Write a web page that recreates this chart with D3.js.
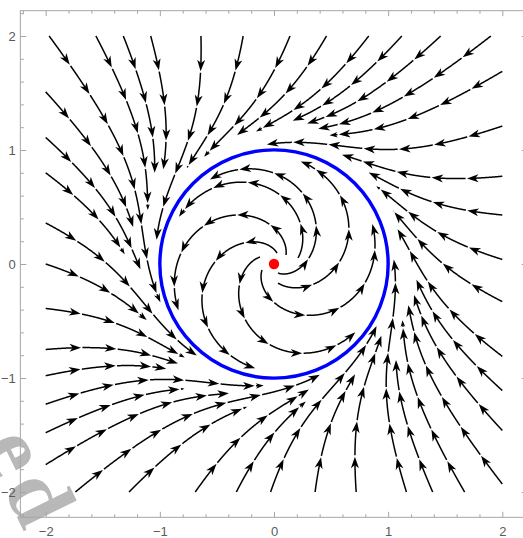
<!DOCTYPE html>
<html>
<head>
<meta charset="utf-8">
<script src="https://cdn.jsdelivr.net/npm/d3@7"></script>
<style>
  html, body { margin: 0; padding: 0; background: #fff; }
  svg { display: block; }
</style>
</head>
<body>
<script>
// Stream plot of x' = -y + x(1 - x² - y²), y' = x + y(1 - x² - y²)
// with its limit cycle (unit circle) and the equilibrium at the origin.

// Upstream ends of the streamlines that enter through the plot edges
const topStarts    = [-1.97, -1.56, -1.32, -1.08, -0.64, -0.27, 0.14, 0.46, 0.83, 1.12, 1.46, 1.90]; // x at y = 2
const rightStarts  = [1.69, 1.21, 0.77, 0.43, 0.04, -0.33, -0.81, -1.11, -1.46, -1.93];            // y at x = 2
const bottomStarts = [-1.74, -1.27, -0.69, -0.33, -0.03, 0.36, 0.72, 1.16, 1.39, 1.67];            // x at y = -2
const leftStarts   = [1.51, 1.11, 0.80, 0.36, 0.0, -0.39, -0.75, -0.98, -1.23, -1.48, -1.76];      // y at x = -2
// Upstream ends of the streamlines leaving the equilibrium
const innerStarts = [
  [0.035, -0.167], [0.035, -0.079], [-0.105, -0.053], [-0.123, 0.061],
  [0.026, 0.096], [0.105, 0.079], [0.21, 0.053], [-0.08, 0.01], [-0.28, 0.035]
];
const majorTicks = [-2, -1, 0, 1, 2];
const minorTicks = [-2.2, -1.8, -1.6, -1.4, -1.2, -0.8, -0.6, -0.4, -0.2,
                    0.2, 0.4, 0.6, 0.8, 1.2, 1.4, 1.6, 1.8, 2.2];
const cycleRadius = 1;
const equilibrium = [0, 0];
const stampText = "ed";

const W = 523, H = 538;
const x = d3.scaleLinear().domain([-2, 2]).range([45.7, 502.3]);
const y = d3.scaleLinear().domain([-2, 2]).range([492, 36]);
const PAD = 0.222;
const fx0 = x(-2 - PAD), fx1 = x(2 + PAD), fy0 = y(2 + PAD), fy1 = y(-2 - PAD);

const svg = d3.select("body").append("svg").attr("width", W).attr("height", H);

// ---------- vector field and tracing ----------
function field(px, py) {
  const k = 1 - (px * px + py * py);
  return [-py + px * k, px + py * k];
}
function unitDir(p) {
  const f = field(p[0], p[1]);
  const m = Math.hypot(f[0], f[1]);
  return m < 1e-12 ? [0, 0] : [f[0] / m, f[1] / m];
}
function rk4(p, h) {
  const k1 = unitDir(p);
  const k2 = unitDir([p[0] + h / 2 * k1[0], p[1] + h / 2 * k1[1]]);
  const k3 = unitDir([p[0] + h / 2 * k2[0], p[1] + h / 2 * k2[1]]);
  const k4 = unitDir([p[0] + h * k3[0], p[1] + h * k3[1]]);
  return [p[0] + h / 6 * (k1[0] + 2 * k2[0] + 2 * k3[0] + k4[0]),
          p[1] + h / 6 * (k1[1] + 2 * k2[1] + 2 * k3[1] + k4[1])];
}

const STEP = 0.004, D_TEST = 0.075, R_IN = 0.93, R_OUT = 1.05;
const grid = new Map();
const key = (a, b) => a + "," + b;
function near(p) {
  const i = Math.floor(p[0] / D_TEST), j = Math.floor(p[1] / D_TEST);
  for (let di = -1; di <= 1; di++) for (let dj = -1; dj <= 1; dj++) {
    const cell = grid.get(key(i + di, j + dj));
    if (!cell) continue;
    for (const q of cell) if (Math.hypot(q[0] - p[0], q[1] - p[1]) < D_TEST) return true;
  }
  return false;
}
function addToGrid(pts) {
  for (const p of pts) {
    const k = key(Math.floor(p[0] / D_TEST), Math.floor(p[1] / D_TEST));
    if (!grid.has(k)) grid.set(k, []);
    grid.get(k).push(p);
  }
}
function trace(start, inside, maxLen) {
  let p = start.slice();
  const pts = [p];
  let L = 0;
  while (L < maxLen) {
    const q = rk4(p, STEP);
    if (Math.abs(q[0]) > 2.0001 || Math.abs(q[1]) > 2.0001) break;
    const r = Math.hypot(q[0], q[1]);
    if (inside ? r > R_IN : r < R_OUT) break;
    if (near(q)) break;
    pts.push(q);
    p = q;
    L += STEP;
  }
  addToGrid(pts);
  return pts;
}

const seeds = [];
topStarts.forEach(v => seeds.push({ p: [v, 2], inside: false }));
rightStarts.forEach(v => seeds.push({ p: [2, v], inside: false }));
bottomStarts.forEach(v => seeds.push({ p: [v, -2], inside: false }));
leftStarts.forEach(v => seeds.push({ p: [-2, v], inside: false }));
innerStarts.forEach(v => seeds.push({ p: v, inside: true }));

const lines = seeds.map(s => trace(s.p, s.inside, 8));

// ---------- drawing ----------
svg.append("rect").attr("width", W).attr("height", H).attr("fill", "#fff");

// grey stamp lettering in the lower-left corner (under the plot)
svg.append("text")
  .attr("transform", "translate(-18,446) rotate(64)")
  .attr("font-family", "Liberation Serif, serif")
  .attr("font-size", 88)
  .attr("font-weight", "bold")
  .attr("letter-spacing", 8)
  .attr("fill", "#b8b8b8")
  .text(stampText);

const plot = svg.append("g");
const SEG = 0.31, GAP = 0.012, HEAD_L = 11.5, HEAD_W = 4;

function pointAt(pts, cum, s) {
  let i = d3.bisectLeft(cum, s);
  if (i <= 0) return pts[0];
  if (i >= pts.length) return pts[pts.length - 1];
  const t = (s - cum[i - 1]) / (cum[i] - cum[i - 1] || 1);
  return [pts[i - 1][0] + t * (pts[i][0] - pts[i - 1][0]), pts[i - 1][1] + t * (pts[i][1] - pts[i - 1][1])];
}
const lineGen = d3.line().x(d => x(d[0])).y(d => y(d[1]));

lines.forEach(pts => {
  if (pts.length < 2) return;
  const cum = [0];
  for (let i = 1; i < pts.length; i++) cum.push(cum[i - 1] + Math.hypot(pts[i][0] - pts[i - 1][0], pts[i][1] - pts[i - 1][1]));
  const total = cum[cum.length - 1];
  for (let k = 0; k * SEG < total; k++) {
    const s0 = k * SEG + (k > 0 ? GAP : 0);
    const s1 = Math.min((k + 1) * SEG, total);
    if (s1 - s0 <= 0.002) continue;
    const scale = Math.min(1, (s1 - s0) / 0.1);
    const hl = HEAD_L * scale, hw = HEAD_W * scale;
    const bodyEnd = s1 - (hl * 0.6) / 114;
    const body = [pointAt(pts, cum, s0)];
    for (let i = 0; i < pts.length; i++) if (cum[i] > s0 && cum[i] < bodyEnd) body.push(pts[i]);
    if (bodyEnd > s0) body.push(pointAt(pts, cum, bodyEnd));
    if (body.length > 1)
      plot.append("path").attr("d", lineGen(body)).attr("fill", "none")
        .attr("stroke", "#000").attr("stroke-width", 1.5);
    const tip = pointAt(pts, cum, s1);
    const u = unitDir(tip);
    const tx = x(tip[0]), ty = y(tip[1]);
    const dx = u[0], dy = -u[1];
    const nx = -dy, ny = dx;
    const pts2 = [
      [tx, ty],
      [tx - dx * hl + nx * hw, ty - dy * hl + ny * hw],
      [tx - dx * hl * 0.72, ty - dy * hl * 0.72],
      [tx - dx * hl - nx * hw, ty - dy * hl - ny * hw]
    ];
    plot.append("path").attr("d", "M" + pts2.map(q => q.join(",")).join("L") + "Z").attr("fill", "#000");
  }
});

// limit cycle and equilibrium
svg.append("circle")
  .attr("cx", x(0)).attr("cy", y(0))
  .attr("r", x(cycleRadius) - x(0))
  .attr("fill", "none").attr("stroke", "#0000ff").attr("stroke-width", 3.4);
svg.append("circle")
  .attr("cx", x(equilibrium[0])).attr("cy", y(equilibrium[1]))
  .attr("r", 5.2).attr("fill", "#ff0000");

// ---------- frame and axes ----------
const fmt = d => d < 0 ? "\u2212" + (-d) : String(d);
const FRAME = "#a6a6a6";
const axisStyle = (g) => {
  g.select(".domain").remove();
  g.selectAll(".tick line").attr("stroke", FRAME);
  g.selectAll(".tick text").attr("fill", "#5a5a5a")
    .attr("font-family", "Liberation Sans, Arial, sans-serif").attr("font-size", 13);
};
// bottom
svg.append("g").attr("transform", `translate(0,${fy1})`)
  .call(d3.axisBottom(x).tickValues(majorTicks).tickSizeInner(-5.5).tickSizeOuter(0).tickPadding(9.5).tickFormat(fmt)).call(axisStyle);
svg.append("g").attr("transform", `translate(0,${fy1})`)
  .call(d3.axisBottom(x).tickValues(minorTicks).tickSizeInner(-3).tickSizeOuter(0).tickFormat("")).call(axisStyle);
// top
svg.append("g").attr("transform", `translate(0,${fy0})`)
  .call(d3.axisTop(x).tickValues(majorTicks).tickSizeInner(-5.5).tickSizeOuter(0).tickFormat("")).call(axisStyle);
svg.append("g").attr("transform", `translate(0,${fy0})`)
  .call(d3.axisTop(x).tickValues(minorTicks).tickSizeInner(-3).tickSizeOuter(0).tickFormat("")).call(axisStyle);
// left
svg.append("g").attr("transform", `translate(${fx0},0)`)
  .call(d3.axisLeft(y).tickValues(majorTicks).tickSizeInner(-6).tickSizeOuter(0).tickPadding(4.5).tickFormat(fmt)).call(axisStyle);
svg.append("g").attr("transform", `translate(${fx0},0)`)
  .call(d3.axisLeft(y).tickValues(minorTicks).tickSizeInner(-3.5).tickSizeOuter(0).tickFormat("")).call(axisStyle);
// right
svg.append("g").attr("transform", `translate(${fx1},0)`)
  .call(d3.axisRight(y).tickValues(majorTicks).tickSizeInner(-6).tickSizeOuter(0).tickFormat("")).call(axisStyle);
svg.append("g").attr("transform", `translate(${fx1},0)`)
  .call(d3.axisRight(y).tickValues(minorTicks).tickSizeInner(-3.5).tickSizeOuter(0).tickFormat("")).call(axisStyle);

svg.append("rect")
  .attr("x", fx0).attr("y", fy0).attr("width", fx1 - fx0).attr("height", fy1 - fy0)
  .attr("fill", "none").attr("stroke", FRAME).attr("stroke-width", 1);
</script>
</body>
</html>
